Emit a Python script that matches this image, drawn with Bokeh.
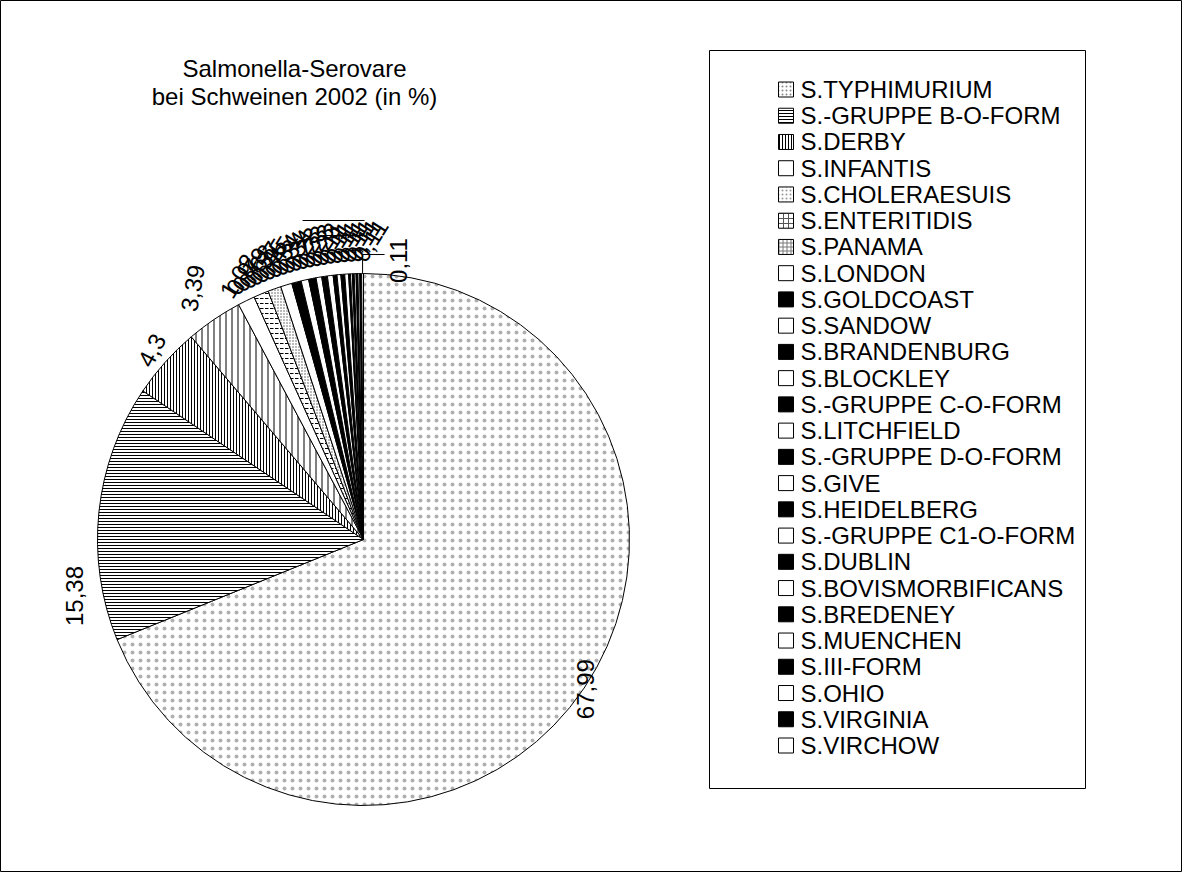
import math
import numpy as np
from bokeh.plotting import figure
from bokeh.models import ColumnDataSource, Range1d
from bokeh.core.properties import value
from bokeh.embed import file_html
from bokeh.resources import INLINE

# ---------------- data ----------------
title_lines = ["Salmonella-Serovare", "bei Schweinen 2002 (in %)"]
categories = ["S.TYPHIMURIUM", "S.-GRUPPE B-O-FORM", "S.DERBY", "S.INFANTIS",
              "S.CHOLERAESUIS", "S.ENTERITIDIS", "S.PANAMA", "S.LONDON",
              "S.GOLDCOAST", "S.SANDOW", "S.BRANDENBURG", "S.BLOCKLEY",
              "S.-GRUPPE C-O-FORM", "S.LITCHFIELD", "S.-GRUPPE D-O-FORM",
              "S.GIVE", "S.HEIDELBERG", "S.-GRUPPE C1-O-FORM", "S.DUBLIN",
              "S.BOVISMORBIFICANS", "S.BREDENEY", "S.MUENCHEN", "S.III-FORM",
              "S.OHIO", "S.VIRGINIA", "S.VIRCHOW"]
values = [67.99, 15.38, 4.3, 3.39,
          1.02, 0.90, 0.79, 0.68,
          0.57, 0.45, 0.45, 0.34,
          0.34, 0.34, 0.23,
          0.23, 0.23, 0.23, 0.11,
          0.11, 0.11, 0.11, 0.11,
          0.11, 0.11, 0.11]

# ---------------- styles ----------------
n = len(categories)
wedge_fill = ["white"] * 8 + ["black" if i % 2 == 0 else "white" for i in range(8, n)]
wedge_hatch = ["dot", "horizontal_line", "vertical_line", "vertical_line",
               "blank", "horizontal_dash", "dot"] + ["blank"] * (n - 7)
wedge_hscale = [8, 3, 3, 6, 6, 5, 3] + [6] * (n - 7)
wedge_hcolor = ["#b0b0b0", "black", "black", "black", "black", "black", "#555555"] + ["black"] * (n - 7)

legend_fill = ["white"] * 8 + ["black" if i % 2 == 0 else "white" for i in range(8, n)]
legend_hatch = ["dot", "horizontal_line", "vertical_line", "blank", "dot", "cross", "cross"] + ["blank"] * (n - 7)
legend_hscale = [4, 3, 3, 6, 4, 5, 4] + [6] * (n - 7)
legend_hcolor = ["#888888", "black", "black", "black", "#999999", "#555555", "#777777"] + ["black"] * (n - 7)

FONT = value("Liberation Sans")
W, H = 1182, 872
cx, cy, R = 363, 333, 266

p = figure(width=W, height=H, x_range=Range1d(0, W), y_range=Range1d(0, H),
           output_backend="svg", toolbar_location=None, min_border=0,
           x_axis_type=None, y_axis_type=None)
p.grid.visible = False
p.outline_line_color = "black"
p.outline_line_width = 1
p.background_fill_color = "white"
p.border_fill_color = "white"

# ---------------- pie ----------------
total = sum(values)
cum = np.concatenate([[0.0], np.cumsum(values)]) / total * 2 * math.pi
start = [math.pi / 2 - cum[i + 1] for i in range(n)]
end = [math.pi / 2 - cum[i] for i in range(n)]
mid = [(s + e) / 2 for s, e in zip(start, end)]

src = ColumnDataSource(dict(start=start, end=end, fill=wedge_fill, hp=wedge_hatch,
                            hs=wedge_hscale, hc=wedge_hcolor))
p.wedge(x=cx, y=cy, radius=R, start_angle="start", end_angle="end",
        fill_color="fill", hatch_pattern="hp", hatch_scale="hs", hatch_color="hc",
        hatch_weight=1, line_color="black", line_width=1, source=src)

# ---------------- data labels ----------------
def fmt(v):
    return ("%g" % v).replace(".", ",")

labels = [fmt(v) for v in values]

# big labels (Excel-like outside-end placement, rotated text)
big_r = [R + 2, R + 28, R + 18, R + 38]
big_shift = [0, 17, 0, 0]          # degrees, label nudged along the rim
big_rot = [90, 90, 62, 80]
bx = [cx + r * math.cos(mid[i] + math.radians(big_shift[i])) for i, r in enumerate(big_r)]
by = [cy + r * math.sin(mid[i] + math.radians(big_shift[i])) for i, r in enumerate(big_r)]
p.text(x=bx, y=by, text=labels[:4], angle=[math.radians(a) for a in big_rot],
       text_align="center", text_baseline="middle", text_font=FONT,
       text_font_size="24px", text_color="black")

# small labels (crowded cluster, evenly spread along the rim)
small_idx = list(range(4, n - 1))
a_first, a_last = math.pi / 2 + math.radians(29.5), math.pi / 2 + math.radians(1.0)
k = len(small_idx)
sx, sy = [], []
for j, i in enumerate(small_idx):
    a = a_first + (a_last - a_first) * j / (k - 1)
    sx.append(cx + 280 * math.cos(a))
    sy.append(cy + 280 * math.sin(a))
p.text(x=sx, y=sy, text=[labels[i] for i in small_idx], angle=math.radians(58),
       text_align="left", text_baseline="middle", text_font=FONT,
       text_font_size="24px", text_color="black")

# last label with leader line
top_x = cx + R * math.cos(mid[-1])
top_y = cy + R * math.sin(mid[-1])
p.line(x=[top_x, top_x, top_x + 22], y=[top_y, top_y + 19, top_y + 19],
       line_color="black", line_width=1)
p.segment(x0=[top_x - 60, top_x - 40], y0=[top_y + 53, top_y + 38],
          x1=[top_x + 2, top_x + 2], y1=[top_y + 53, top_y + 38],
          line_color="black", line_width=1)
p.text(x=[top_x + 36], y=[top_y + 13], text=[labels[-1]], angle=math.pi / 2,
       text_align="center", text_baseline="middle", text_font=FONT,
       text_font_size="24px", text_color="black")

# ---------------- title ----------------
p.text(x=[294, 294], y=[804, 776], text=title_lines, text_align="center",
       text_baseline="middle", text_font=FONT, text_font_size="24px",
       text_color="black")

# ---------------- legend ----------------
p.quad(left=[709], right=[1085], top=[822], bottom=[84],
       fill_color="white", line_color="black", line_width=1)
ly = [783 - 26.24 * i for i in range(n)]
lsrc = ColumnDataSource(dict(y=ly, name=categories, fill=legend_fill, hp=legend_hatch,
                             hs=legend_hscale, hc=legend_hcolor))
p.rect(x=785.5, y="y", width=15, height=15, fill_color="fill", hatch_pattern="hp",
       hatch_scale="hs", hatch_color="hc", hatch_weight=1,
       line_color="black", line_width=1, source=lsrc)
p.text(x=800, y="y", text="name", text_align="left", text_baseline="middle",
       text_font=FONT, text_font_size="24px", text_color="black", source=lsrc)

open("out.html", "w").write(file_html(p, INLINE))
